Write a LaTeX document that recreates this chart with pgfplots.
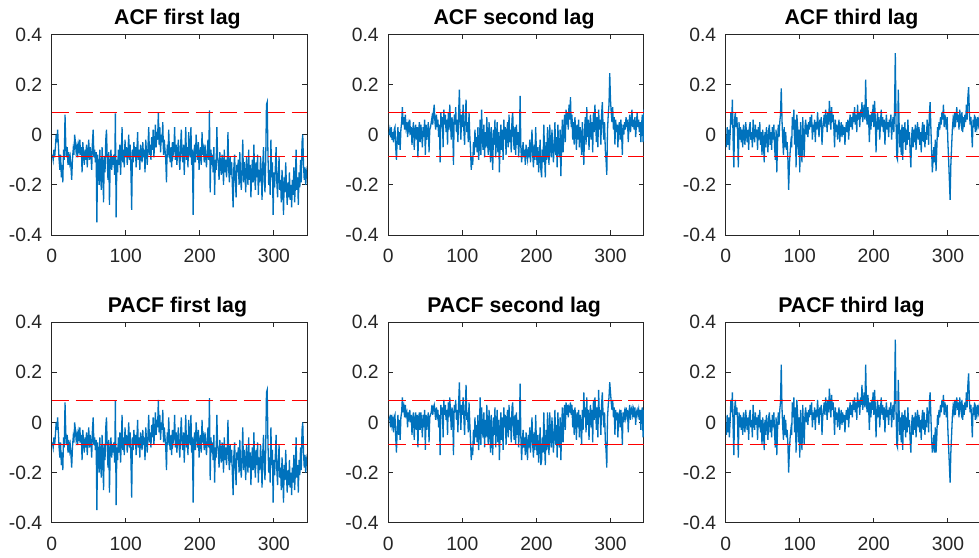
\documentclass[border=0pt]{standalone}
\usepackage{fontspec}
\setmainfont{Liberation Sans}
\usepackage{pgfplots}
\pgfplotsset{compat=1.18}
\usepackage{pgfplotstable}
\definecolor{mblue}{rgb}{0,0.447,0.741}
\definecolor{axgray}{rgb}{0.15,0.15,0.15}

\pgfplotstableread[row sep=\\]{y\\
-0.08\\ -0.10\\ -0.06\\ -0.09\\ -0.05\\ 0.00\\ -0.03\\ 0.02\\ -0.04\\ -0.10\\
-0.14\\ -0.08\\ -0.17\\ -0.12\\ -0.19\\ -0.06\\ -0.10\\ 0.08\\ -0.04\\ -0.09\\
-0.05\\ -0.12\\ -0.07\\ -0.11\\ -0.09\\ -0.13\\ -0.18\\ -0.10\\ -0.06\\ -0.08\\
0.00\\ -0.03\\ -0.07\\ -0.05\\ -0.09\\ -0.04\\ -0.06\\ -0.02\\ -0.08\\ -0.05\\
-0.15\\ -0.03\\ -0.08\\ -0.12\\ -0.06\\ -0.10\\ -0.04\\ -0.13\\ -0.07\\ -0.02\\
-0.10\\ -0.05\\ -0.08\\ -0.14\\ -0.03\\ 0.02\\ -0.09\\ -0.06\\ -0.11\\ -0.07\\
-0.35\\ -0.08\\ -0.14\\ -0.20\\ -0.06\\ -0.16\\ -0.22\\ -0.05\\ -0.12\\ -0.27\\
-0.09\\ -0.15\\ -0.02\\ 0.02\\ -0.10\\ -0.18\\ -0.07\\ -0.28\\ -0.11\\ -0.06\\
-0.14\\ -0.09\\ -0.12\\ -0.08\\ -0.16\\ 0.085\\ -0.33\\ -0.10\\ -0.15\\ -0.06\\
-0.12\\ -0.04\\ -0.16\\ -0.08\\ 0.03\\ -0.11\\ -0.06\\ -0.13\\ -0.02\\ -0.09\\
-0.05\\ -0.12\\ -0.07\\ 0.00\\ -0.10\\ -0.04\\ -0.15\\ -0.30\\ -0.06\\ -0.11\\
-0.03\\ -0.09\\ -0.05\\ -0.13\\ -0.07\\ 0.01\\ -0.10\\ -0.06\\ -0.14\\ -0.04\\
-0.08\\ -0.11\\ -0.03\\ -0.09\\ -0.06\\ -0.15\\ -0.02\\ -0.07\\ -0.12\\ -0.05\\
0.03\\ -0.08\\ -0.04\\ -0.10\\ -0.01\\ -0.06\\ 0.02\\ -0.09\\ -0.03\\ 0.04\\
-0.05\\ 0.01\\ -0.02\\ 0.09\\ -0.04\\ 0.03\\ -0.07\\ 0.00\\ -0.03\\ 0.05\\
-0.08\\ -0.02\\ -0.06\\ -0.10\\ -0.19\\ -0.04\\ -0.09\\ 0.02\\ -0.07\\ -0.11\\
-0.05\\ -0.13\\ -0.03\\ -0.08\\ -0.06\\ 0.03\\ -0.10\\ -0.04\\ -0.12\\ -0.07\\
-0.02\\ -0.09\\ -0.14\\ -0.05\\ 0.02\\ -0.08\\ -0.11\\ -0.04\\ -0.16\\ -0.06\\
0.03\\ -0.10\\ -0.05\\ -0.13\\ 0.01\\ -0.07\\ -0.09\\ 0.03\\ -0.12\\ -0.06\\
-0.32\\ -0.08\\ -0.04\\ -0.11\\ 0.00\\ -0.06\\ -0.10\\ -0.03\\ -0.14\\ -0.07\\
-0.05\\ -0.12\\ 0.01\\ -0.08\\ -0.06\\ -0.11\\ -0.04\\ -0.09\\ -0.13\\ -0.07\\
-0.02\\ -0.10\\ 0.097\\ -0.23\\ -0.06\\ -0.12\\ -0.08\\ -0.15\\ -0.05\\ -0.24\\
-0.10\\ -0.14\\ 0.03\\ -0.09\\ -0.12\\ -0.18\\ -0.07\\ -0.13\\ -0.16\\ -0.08\\
-0.11\\ -0.20\\ -0.06\\ -0.15\\ -0.10\\ -0.17\\ -0.12\\ 0.01\\ -0.14\\ -0.19\\
-0.09\\ -0.16\\ -0.11\\ -0.21\\ -0.29\\ -0.13\\ -0.08\\ -0.18\\ -0.25\\ -0.12\\
-0.15\\ -0.10\\ -0.20\\ -0.07\\ -0.17\\ -0.22\\ -0.13\\ -0.02\\ -0.19\\ -0.11\\
-0.16\\ -0.23\\ -0.09\\ -0.14\\ -0.20\\ -0.06\\ -0.18\\ -0.12\\ -0.25\\ -0.15\\
-0.10\\ -0.19\\ -0.04\\ -0.16\\ -0.22\\ -0.11\\ -0.17\\ -0.08\\ -0.24\\ -0.14\\
-0.19\\ -0.09\\ -0.15\\ -0.26\\ -0.12\\ -0.05\\ -0.18\\ -0.23\\ -0.10\\ 0.12\\
0.13\\ -0.08\\ -0.20\\ -0.14\\ -0.24\\ -0.02\\ -0.17\\ -0.11\\ -0.32\\ -0.15\\
-0.21\\ -0.13\\ -0.05\\ -0.19\\ -0.25\\ -0.16\\ -0.09\\ -0.22\\ -0.18\\ -0.27\\
-0.14\\ -0.20\\ -0.32\\ -0.17\\ -0.23\\ -0.11\\ -0.21\\ -0.28\\ -0.19\\ -0.25\\
-0.15\\ -0.26\\ -0.20\\ -0.29\\ -0.18\\ -0.24\\ -0.13\\ -0.27\\ -0.20\\ -0.06\\
-0.22\\ -0.17\\ -0.28\\ -0.15\\ -0.21\\ -0.10\\ -0.19\\ -0.03\\ 0.00\\ -0.12\\
-0.18\\ -0.13\\ -0.20\\ -0.15\\ -0.17\\
}\acfA

\pgfplotstableread[row sep=\\]{y\\
0.00\\ 0.02\\ -0.01\\ 0.03\\ -0.02\\ 0.01\\ -0.03\\ 0.02\\ 0.03\\ -0.05\\
-0.10\\ -0.02\\ 0.03\\ -0.04\\ 0.01\\ -0.06\\ 0.02\\ 0.05\\ 0.11\\ 0.04\\
0.07\\ 0.02\\ 0.08\\ 0.03\\ 0.05\\ -0.01\\ 0.04\\ 0.02\\ 0.06\\ 0.00\\
0.03\\ -0.04\\ 0.02\\ 0.05\\ -0.06\\ 0.01\\ 0.04\\ -0.02\\ 0.03\\ -0.09\\
0.02\\ 0.05\\ -0.03\\ 0.04\\ 0.00\\ -0.05\\ 0.03\\ -0.01\\ 0.06\\ -0.08\\
0.04\\ -0.02\\ 0.01\\ 0.05\\ -0.07\\ 0.02\\ 0.03\\ 0.05\\ 0.07\\ 0.04\\
0.09\\ 0.12\\ 0.05\\ 0.02\\ 0.08\\ 0.03\\ 0.06\\ -0.01\\ 0.04\\ -0.11\\
0.09\\ 0.03\\ 0.07\\ -0.05\\ 0.10\\ 0.04\\ 0.08\\ 0.01\\ 0.06\\ -0.04\\
0.09\\ 0.02\\ 0.12\\ 0.05\\ -0.02\\ 0.07\\ 0.03\\ -0.12\\ 0.08\\ 0.04\\
0.11\\ 0.01\\ 0.06\\ -0.03\\ 0.09\\ 0.18\\ 0.05\\ -0.02\\ 0.08\\ 0.03\\
0.12\\ 0.02\\ -0.04\\ 0.07\\ 0.14\\ 0.01\\ 0.05\\ -0.03\\ 0.09\\ 0.00\\
-0.06\\ -0.14\\ -0.09\\ -0.12\\ -0.03\\ -0.08\\ 0.02\\ -0.05\\ -0.01\\ -0.07\\
0.03\\ -0.10\\ -0.04\\ 0.06\\ -0.08\\ 0.10\\ -0.02\\ -0.06\\ 0.04\\ -0.09\\
0.01\\ -0.05\\ 0.07\\ -0.03\\ -0.08\\ 0.05\\ -0.01\\ -0.11\\ 0.03\\ -0.06\\
-0.14\\ 0.02\\ -0.04\\ 0.06\\ -0.09\\ -0.02\\ 0.05\\ -0.07\\ 0.01\\ -0.15\\
-0.03\\ 0.04\\ -0.06\\ 0.02\\ -0.10\\ 0.06\\ -0.02\\ 0.03\\ -0.08\\ 0.00\\
0.05\\ -0.05\\ 0.08\\ -0.03\\ 0.02\\ -0.07\\ 0.06\\ 0.09\\ -0.02\\ -0.06\\
0.03\\ -0.08\\ 0.04\\ -0.04\\ 0.01\\ -0.09\\ -0.02\\ 0.155\\ -0.05\\ -0.11\\
-0.07\\ -0.03\\ -0.09\\ -0.06\\ -0.12\\ -0.04\\ -0.08\\ -0.10\\ -0.05\\ -0.09\\
-0.02\\ -0.11\\ -0.06\\ 0.02\\ -0.08\\ -0.13\\ -0.04\\ -0.10\\ 0.03\\ -0.07\\
-0.12\\ -0.05\\ -0.15\\ -0.09\\ -0.02\\ -0.14\\ -0.17\\ -0.06\\ -0.11\\ 0.04\\
-0.08\\ -0.17\\ -0.03\\ -0.10\\ 0.03\\ -0.07\\ -0.12\\ 0.04\\ -0.05\\ -0.09\\
0.02\\ -0.06\\ -0.11\\ -0.03\\ 0.05\\ -0.08\\ -0.01\\ -0.13\\ 0.04\\ -0.05\\
-0.09\\ 0.02\\ -0.165\\ -0.04\\ 0.06\\ -0.07\\ 0.01\\ 0.08\\ -0.03\\ 0.10\\
0.04\\ 0.09\\ 0.02\\ 0.12\\ 0.06\\ 0.15\\ 0.03\\ 0.08\\ -0.02\\ 0.05\\
-0.04\\ 0.07\\ 0.01\\ -0.06\\ 0.04\\ -0.02\\ 0.06\\ -0.05\\ 0.03\\ 0.00\\
-0.08\\ 0.05\\ -0.03\\ -0.12\\ 0.02\\ 0.07\\ -0.04\\ 0.11\\ -0.01\\ 0.06\\
-0.06\\ 0.03\\ 0.08\\ -0.02\\ 0.05\\ -0.07\\ 0.09\\ 0.01\\ 0.12\\ 0.04\\
-0.03\\ 0.07\\ -0.05\\ 0.10\\ 0.02\\ 0.06\\ -0.04\\ 0.08\\ 0.13\\ 0.03\\
-0.02\\ 0.05\\ -0.06\\ -0.10\\ -0.16\\ 0.02\\ 0.08\\ 0.12\\ 0.245\\ 0.14\\
0.09\\ 0.05\\ 0.11\\ 0.02\\ 0.07\\ -0.04\\ 0.06\\ 0.01\\ 0.04\\ -0.05\\
0.03\\ 0.05\\ -0.02\\ 0.06\\ 0.01\\ -0.08\\ 0.04\\ 0.00\\ 0.05\\ 0.02\\
0.07\\ 0.03\\ 0.06\\ -0.03\\ 0.04\\ 0.08\\ 0.01\\ 0.05\\ 0.10\\ 0.03\\
0.06\\ 0.02\\ 0.07\\ -0.01\\ 0.04\\ 0.09\\ 0.03\\ 0.06\\ 0.01\\ 0.05\\
-0.03\\ 0.04\\ 0.08\\ -0.03\\ 0.10\\
}\acfB

\pgfplotstableread[row sep=\\]{y\\
-0.05\\ 0.03\\ -0.04\\ 0.02\\ -0.06\\ 0.01\\ 0.09\\ 0.04\\ 0.14\\ -0.02\\
-0.13\\ 0.06\\ 0.09\\ 0.03\\ 0.07\\ 0.01\\ -0.13\\ 0.05\\ -0.02\\ 0.03\\
-0.03\\ 0.02\\ -0.05\\ 0.04\\ 0.00\\ -0.04\\ 0.05\\ 0.01\\ -0.03\\ 0.02\\
-0.06\\ 0.03\\ 0.05\\ -0.02\\ 0.01\\ -0.05\\ 0.06\\ 0.00\\ -0.03\\ 0.04\\
-0.01\\ 0.02\\ -0.06\\ 0.03\\ -0.02\\ 0.05\\ -0.04\\ 0.01\\ -0.08\\ 0.02\\
-0.03\\ -0.11\\ 0.01\\ -0.05\\ 0.03\\ -0.02\\ -0.07\\ 0.02\\ 0.04\\ -0.04\\
0.01\\ -0.06\\ 0.03\\ -0.02\\ 0.04\\ -0.05\\ -0.10\\ 0.02\\ -0.15\\ -0.03\\
0.04\\ -0.01\\ 0.05\\ 0.08\\ 0.185\\ 0.06\\ -0.02\\ -0.08\\ 0.03\\ -0.05\\
0.01\\ -0.06\\ -0.03\\ -0.10\\ -0.22\\ -0.12\\ -0.07\\ -0.03\\ -0.05\\ 0.07\\
0.02\\ 0.10\\ -0.04\\ 0.06\\ -0.13\\ 0.08\\ 0.04\\ -0.08\\ 0.02\\ -0.15\\
0.05\\ -0.06\\ -0.11\\ 0.07\\ -0.02\\ -0.09\\ 0.03\\ 0.06\\ 0.00\\ 0.04\\
-0.01\\ 0.05\\ 0.02\\ 0.07\\ 0.03\\ 0.08\\ -0.02\\ 0.04\\ 0.01\\ 0.06\\
-0.03\\ 0.05\\ 0.02\\ 0.09\\ 0.04\\ -0.01\\ 0.06\\ 0.03\\ 0.07\\ -0.04\\
0.02\\ 0.05\\ 0.08\\ 0.03\\ 0.10\\ 0.06\\ 0.01\\ 0.09\\ 0.04\\ 0.135\\
0.07\\ 0.02\\ 0.11\\ 0.05\\ 0.08\\ 0.03\\ -0.05\\ 0.06\\ 0.01\\ 0.04\\
-0.02\\ 0.03\\ 0.06\\ -0.03\\ 0.02\\ 0.05\\ -0.01\\ 0.04\\ 0.00\\ 0.03\\
-0.04\\ 0.02\\ 0.05\\ 0.01\\ 0.06\\ -0.02\\ 0.04\\ 0.08\\ 0.03\\ 0.07\\
0.02\\ 0.09\\ 0.05\\ 0.11\\ 0.04\\ 0.08\\ 0.01\\ 0.12\\ 0.06\\ 0.09\\
0.03\\ 0.10\\ 0.07\\ 0.13\\ 0.05\\ 0.09\\ 0.12\\ 0.06\\ 0.22\\ 0.08\\
0.04\\ 0.11\\ 0.06\\ -0.03\\ 0.08\\ 0.02\\ 0.07\\ 0.05\\ 0.12\\ 0.03\\
0.135\\ 0.06\\ -0.07\\ 0.04\\ 0.09\\ 0.02\\ 0.07\\ -0.02\\ 0.05\\ 0.10\\
0.03\\ 0.07\\ 0.01\\ 0.06\\ -0.04\\ 0.04\\ 0.08\\ 0.02\\ 0.05\\ -0.01\\
0.06\\ 0.03\\ 0.08\\ -0.02\\ 0.04\\ 0.07\\ 0.01\\ 0.10\\ 0.325\\ 0.05\\
-0.09\\ -0.10\\ 0.18\\ 0.06\\ -0.05\\ 0.02\\ -0.08\\ 0.04\\ -0.10\\ 0.03\\
-0.03\\ 0.05\\ -0.06\\ 0.02\\ -0.04\\ 0.06\\ -0.02\\ 0.01\\ -0.07\\ -0.13\\
-0.01\\ 0.03\\ -0.05\\ 0.02\\ -0.03\\ 0.04\\ -0.06\\ 0.00\\ 0.05\\ -0.02\\
0.03\\ -0.04\\ 0.01\\ -0.07\\ 0.02\\ 0.05\\ -0.03\\ 0.04\\ -0.05\\ 0.01\\
-0.02\\ 0.06\\ 0.02\\ -0.04\\ 0.08\\ 0.13\\ 0.03\\ -0.06\\ -0.15\\ -0.10\\
-0.05\\ -0.11\\ -0.02\\ -0.145\\ -0.06\\ 0.03\\ -0.01\\ 0.05\\ 0.02\\ 0.07\\
0.04\\ 0.09\\ 0.06\\ 0.12\\ 0.03\\ 0.08\\ 0.05\\ 0.02\\ 0.07\\ -0.03\\
-0.10\\ -0.18\\ -0.26\\ -0.12\\ -0.05\\ 0.02\\ 0.06\\ 0.04\\ 0.09\\ 0.03\\
0.07\\ 0.11\\ 0.05\\ 0.08\\ 0.02\\ 0.10\\ 0.06\\ 0.04\\ 0.09\\ 0.01\\
0.07\\ 0.03\\ 0.08\\ 0.05\\ 0.12\\ 0.06\\ 0.15\\ 0.19\\ 0.09\\ 0.04\\
0.07\\ 0.02\\ -0.05\\ 0.06\\ 0.03\\ 0.08\\ 0.01\\ 0.05\\ 0.03\\ 0.07\\
0.04\\ 0.06\\ 0.02\\ 0.05\\ 0.03\\
}\acfC

\pgfplotstableread[row sep=\\]{y\\
0.01\\ 0.02\\ -0.02\\ 0.03\\ -0.01\\ 0.01\\ -0.04\\ 0.02\\ 0.03\\ -0.06\\
-0.12\\ -0.03\\ 0.03\\ -0.05\\ 0.01\\ -0.07\\ 0.02\\ 0.04\\ 0.10\\ 0.04\\
0.06\\ 0.02\\ 0.07\\ 0.03\\ 0.04\\ -0.02\\ 0.04\\ 0.02\\ 0.05\\ 0.00\\
0.03\\ -0.05\\ 0.02\\ 0.04\\ -0.07\\ 0.01\\ 0.04\\ -0.03\\ 0.03\\ -0.10\\
0.02\\ 0.04\\ -0.03\\ 0.04\\ 0.00\\ -0.06\\ 0.03\\ -0.02\\ 0.05\\ -0.11\\
0.03\\ -0.03\\ 0.01\\ 0.04\\ -0.08\\ 0.02\\ 0.03\\ 0.04\\ 0.07\\ 0.03\\
0.06\\ 0.07\\ 0.04\\ 0.01\\ 0.06\\ 0.03\\ 0.05\\ -0.02\\ 0.03\\ -0.13\\
0.07\\ 0.03\\ 0.06\\ -0.06\\ 0.09\\ 0.03\\ 0.07\\ 0.01\\ 0.05\\ -0.05\\
0.08\\ 0.02\\ 0.10\\ 0.04\\ -0.03\\ 0.06\\ 0.03\\ -0.13\\ 0.07\\ 0.04\\
0.09\\ 0.01\\ 0.05\\ -0.04\\ 0.08\\ 0.16\\ 0.04\\ -0.03\\ 0.07\\ 0.03\\
0.10\\ 0.02\\ -0.05\\ 0.06\\ 0.15\\ 0.01\\ 0.04\\ -0.04\\ 0.08\\ 0.00\\
-0.07\\ -0.15\\ -0.10\\ -0.13\\ -0.03\\ -0.09\\ 0.02\\ -0.06\\ -0.01\\ -0.08\\
0.03\\ -0.11\\ -0.04\\ 0.10\\ -0.09\\ 0.06\\ -0.03\\ -0.06\\ 0.04\\ -0.10\\
0.01\\ -0.06\\ 0.07\\ -0.03\\ -0.09\\ 0.05\\ -0.01\\ -0.12\\ 0.03\\ -0.07\\
-0.13\\ 0.02\\ -0.05\\ 0.06\\ -0.10\\ -0.02\\ 0.05\\ -0.08\\ 0.01\\ -0.15\\
-0.04\\ 0.04\\ -0.07\\ 0.02\\ -0.11\\ 0.06\\ -0.02\\ 0.03\\ -0.09\\ 0.00\\
0.05\\ -0.06\\ 0.07\\ -0.03\\ 0.02\\ -0.08\\ 0.06\\ 0.08\\ -0.03\\ -0.07\\
0.03\\ -0.09\\ 0.04\\ -0.05\\ 0.01\\ -0.10\\ -0.02\\ 0.155\\ -0.06\\ -0.15\\
-0.08\\ -0.03\\ -0.10\\ -0.06\\ -0.13\\ -0.04\\ -0.09\\ -0.15\\ -0.05\\ -0.10\\
-0.02\\ -0.12\\ -0.06\\ 0.02\\ -0.09\\ -0.14\\ -0.04\\ -0.11\\ 0.03\\ -0.08\\
-0.13\\ -0.05\\ -0.16\\ -0.10\\ -0.02\\ -0.17\\ -0.15\\ -0.06\\ -0.12\\ 0.04\\
-0.09\\ -0.17\\ -0.03\\ -0.11\\ 0.04\\ -0.08\\ -0.13\\ 0.04\\ -0.06\\ -0.10\\
0.02\\ -0.07\\ -0.12\\ -0.03\\ 0.05\\ -0.09\\ -0.01\\ -0.14\\ 0.04\\ -0.06\\
-0.10\\ 0.02\\ -0.15\\ -0.04\\ 0.06\\ -0.08\\ 0.01\\ 0.07\\ -0.03\\ 0.08\\
0.03\\ 0.07\\ 0.02\\ 0.06\\ 0.05\\ 0.08\\ 0.03\\ 0.07\\ -0.02\\ 0.05\\
-0.05\\ 0.06\\ 0.01\\ -0.07\\ 0.04\\ -0.02\\ 0.05\\ -0.06\\ 0.03\\ 0.00\\
-0.09\\ 0.05\\ -0.03\\ 0.12\\ 0.02\\ 0.06\\ -0.04\\ 0.10\\ -0.01\\ 0.05\\
-0.07\\ 0.03\\ 0.07\\ -0.02\\ 0.05\\ -0.08\\ 0.09\\ 0.01\\ 0.10\\ 0.04\\
-0.03\\ 0.06\\ -0.06\\ 0.13\\ 0.02\\ 0.05\\ -0.05\\ 0.07\\ 0.12\\ 0.03\\
-0.02\\ 0.04\\ -0.07\\ -0.11\\ -0.18\\ 0.02\\ 0.07\\ 0.10\\ 0.16\\ 0.12\\
0.08\\ 0.05\\ 0.09\\ 0.02\\ 0.06\\ -0.05\\ 0.05\\ 0.01\\ 0.04\\ -0.06\\
0.03\\ 0.04\\ -0.02\\ 0.05\\ 0.01\\ -0.09\\ 0.04\\ 0.00\\ 0.04\\ 0.02\\
0.06\\ 0.03\\ 0.05\\ -0.04\\ 0.04\\ 0.07\\ 0.01\\ 0.05\\ 0.06\\ 0.03\\
0.05\\ 0.02\\ 0.06\\ -0.01\\ 0.04\\ 0.05\\ 0.03\\ 0.05\\ 0.01\\ 0.05\\
-0.03\\ 0.04\\ 0.06\\ -0.06\\ 0.05\\
}\pacfB

\pgfplotstableread[row sep=\\]{y\\
-0.05\\ 0.03\\ -0.04\\ 0.02\\ -0.06\\ 0.01\\ 0.09\\ 0.04\\ 0.12\\ -0.02\\
-0.13\\ 0.05\\ 0.09\\ 0.03\\ 0.06\\ 0.01\\ -0.14\\ 0.04\\ -0.02\\ 0.03\\
-0.03\\ 0.02\\ -0.05\\ 0.04\\ 0.00\\ -0.04\\ 0.05\\ 0.01\\ -0.03\\ 0.02\\
-0.07\\ 0.03\\ 0.05\\ -0.02\\ 0.01\\ -0.06\\ 0.07\\ 0.00\\ -0.03\\ 0.04\\
-0.01\\ 0.02\\ -0.07\\ 0.03\\ -0.02\\ 0.05\\ -0.04\\ 0.01\\ -0.09\\ 0.02\\
-0.03\\ -0.11\\ 0.01\\ -0.05\\ 0.03\\ -0.02\\ -0.07\\ 0.02\\ 0.04\\ -0.04\\
0.01\\ -0.06\\ 0.03\\ -0.02\\ 0.04\\ -0.05\\ -0.10\\ 0.02\\ -0.13\\ -0.03\\
0.04\\ -0.01\\ 0.05\\ 0.08\\ 0.23\\ 0.06\\ -0.02\\ -0.07\\ 0.03\\ -0.05\\
0.01\\ -0.06\\ -0.03\\ -0.09\\ -0.20\\ -0.11\\ -0.06\\ -0.03\\ -0.05\\ 0.08\\
0.02\\ 0.10\\ -0.04\\ 0.06\\ -0.12\\ 0.09\\ 0.04\\ -0.08\\ 0.02\\ -0.14\\
0.05\\ -0.06\\ -0.11\\ 0.07\\ -0.02\\ -0.09\\ 0.03\\ 0.06\\ 0.00\\ 0.04\\
-0.01\\ 0.05\\ 0.02\\ 0.07\\ 0.03\\ 0.08\\ -0.02\\ 0.04\\ 0.01\\ 0.06\\
-0.03\\ 0.05\\ 0.02\\ 0.09\\ 0.04\\ -0.01\\ 0.06\\ 0.03\\ 0.07\\ -0.05\\
0.02\\ 0.05\\ 0.08\\ 0.03\\ 0.10\\ 0.06\\ 0.01\\ 0.09\\ 0.04\\ 0.135\\
0.07\\ 0.02\\ 0.11\\ 0.05\\ 0.08\\ 0.03\\ -0.05\\ 0.06\\ 0.01\\ 0.04\\
-0.02\\ 0.03\\ 0.06\\ -0.03\\ 0.02\\ 0.05\\ -0.01\\ 0.04\\ 0.00\\ 0.03\\
-0.04\\ 0.02\\ 0.05\\ 0.01\\ 0.06\\ -0.02\\ 0.04\\ 0.08\\ 0.03\\ 0.07\\
0.02\\ 0.09\\ 0.05\\ 0.10\\ 0.04\\ 0.08\\ 0.01\\ 0.12\\ 0.06\\ 0.09\\
0.03\\ 0.10\\ 0.07\\ 0.15\\ 0.05\\ 0.09\\ 0.12\\ 0.06\\ 0.23\\ 0.08\\
0.04\\ 0.11\\ 0.06\\ -0.03\\ 0.08\\ 0.02\\ 0.07\\ 0.05\\ 0.12\\ 0.03\\
0.13\\ 0.06\\ -0.06\\ 0.04\\ 0.09\\ 0.02\\ 0.07\\ -0.02\\ 0.05\\ 0.10\\
0.03\\ 0.07\\ 0.01\\ 0.06\\ -0.04\\ 0.04\\ 0.08\\ 0.02\\ 0.05\\ -0.01\\
0.06\\ 0.03\\ 0.08\\ -0.02\\ 0.04\\ 0.07\\ 0.01\\ 0.10\\ 0.33\\ 0.05\\
-0.09\\ -0.10\\ 0.17\\ 0.06\\ -0.05\\ 0.02\\ -0.08\\ 0.04\\ -0.11\\ 0.03\\
-0.03\\ 0.05\\ -0.06\\ 0.02\\ -0.04\\ 0.06\\ -0.02\\ 0.01\\ -0.07\\ -0.12\\
-0.01\\ 0.03\\ -0.05\\ 0.02\\ -0.03\\ 0.04\\ -0.06\\ 0.00\\ 0.05\\ -0.02\\
0.03\\ -0.04\\ 0.01\\ -0.07\\ 0.02\\ 0.05\\ -0.03\\ 0.04\\ -0.05\\ 0.01\\
-0.02\\ 0.06\\ 0.02\\ -0.04\\ 0.08\\ 0.12\\ 0.03\\ -0.06\\ -0.12\\ -0.10\\
-0.05\\ -0.12\\ -0.02\\ -0.12\\ -0.06\\ 0.03\\ -0.01\\ 0.05\\ 0.02\\ 0.07\\
0.04\\ 0.09\\ 0.06\\ 0.11\\ 0.03\\ 0.08\\ 0.05\\ 0.02\\ 0.07\\ -0.03\\
-0.10\\ -0.17\\ -0.24\\ -0.12\\ -0.05\\ 0.02\\ 0.06\\ 0.04\\ 0.09\\ 0.03\\
0.07\\ 0.10\\ 0.05\\ 0.08\\ 0.02\\ 0.10\\ 0.06\\ 0.04\\ 0.09\\ 0.01\\
0.07\\ 0.03\\ 0.08\\ 0.05\\ 0.12\\ 0.06\\ 0.15\\ 0.195\\ 0.09\\ 0.04\\
0.07\\ 0.02\\ -0.06\\ 0.06\\ 0.03\\ 0.08\\ 0.01\\ 0.05\\ 0.03\\ 0.07\\
0.04\\ 0.06\\ 0.02\\ 0.05\\ 0.03\\
}\pacfC

\pgfplotsset{
  matstyle/.style={
    scale only axis, width=255.5pt, height=200.6pt,
    anchor=south west,
    xmin=0, xmax=345, ymin=-0.4, ymax=0.4,
    xtick={0,100,200,300}, xticklabels={0,100,200,300},
    ytick={-0.4,-0.2,0,0.2,0.4}, yticklabels={-0.4,-0.2,0,0.2,0.4},
    tick align=inside, major tick length=5pt,
    axis line style={axgray, line width=0.8pt},
    every tick/.style={axgray, line width=0.8pt},
    tick label style={font=\fontsize{19.3}{23}\selectfont, text=axgray},
    xticklabel style={anchor=base, inner sep=0pt, yshift=-28pt},
    yticklabel style={anchor=east, inner sep=0pt, xshift=-9.4pt},
    title style={font=\bfseries\fontsize{21.3}{25}\selectfont, at={(0.5,1)}, anchor=base, inner sep=0pt, yshift=4pt, xshift=-2pt},
  },
  blueline/.style={mblue, line width=1.3pt},
  redline/.style={red, line width=0.9pt, dash pattern=on 17.7pt off 6.3pt},
}

\begin{document}
\begin{tikzpicture}
\path[use as bounding box] (0pt,0pt) rectangle (979pt,557pt);

\begin{axis}[matstyle, at={(51.7pt,322pt)}, title={ACF first lag}]
\addplot[blueline] table[x expr=\coordindex+1, y=y]{\acfA};
\addplot[redline] coordinates {(0,0.0877)(345,0.0877)};
\addplot[redline] coordinates {(0,-0.0877)(345,-0.0877)};
\end{axis}

\begin{axis}[matstyle, at={(388.3pt,322pt)}, title={ACF second lag}]
\addplot[blueline] table[x expr=\coordindex+1, y=y]{\acfB};
\addplot[redline] coordinates {(0,0.0877)(345,0.0877)};
\addplot[redline] coordinates {(0,-0.0877)(345,-0.0877)};
\end{axis}

\begin{axis}[matstyle, at={(725.7pt,322pt)}, title={ACF third lag}]
\addplot[blueline] table[x expr=\coordindex+1, y=y]{\acfC};
\addplot[redline] coordinates {(0,0.0877)(345,0.0877)};
\addplot[redline] coordinates {(0,-0.0877)(345,-0.0877)};
\end{axis}

\begin{axis}[matstyle, at={(51.7pt,34.3pt)}, title={PACF first lag}]
\addplot[blueline] table[x expr=\coordindex+1, y=y]{\acfA};
\addplot[redline] coordinates {(0,0.0877)(345,0.0877)};
\addplot[redline] coordinates {(0,-0.0877)(345,-0.0877)};
\end{axis}

\begin{axis}[matstyle, at={(388.3pt,34.3pt)}, title={PACF second lag}]
\addplot[blueline] table[x expr=\coordindex+1, y=y]{\pacfB};
\addplot[redline] coordinates {(0,0.0877)(345,0.0877)};
\addplot[redline] coordinates {(0,-0.0877)(345,-0.0877)};
\end{axis}

\begin{axis}[matstyle, at={(725.7pt,34.3pt)}, title={PACF third lag}]
\addplot[blueline] table[x expr=\coordindex+1, y=y]{\pacfC};
\addplot[redline] coordinates {(0,0.0877)(345,0.0877)};
\addplot[redline] coordinates {(0,-0.0877)(345,-0.0877)};
\end{axis}
\end{tikzpicture}
\end{document}
